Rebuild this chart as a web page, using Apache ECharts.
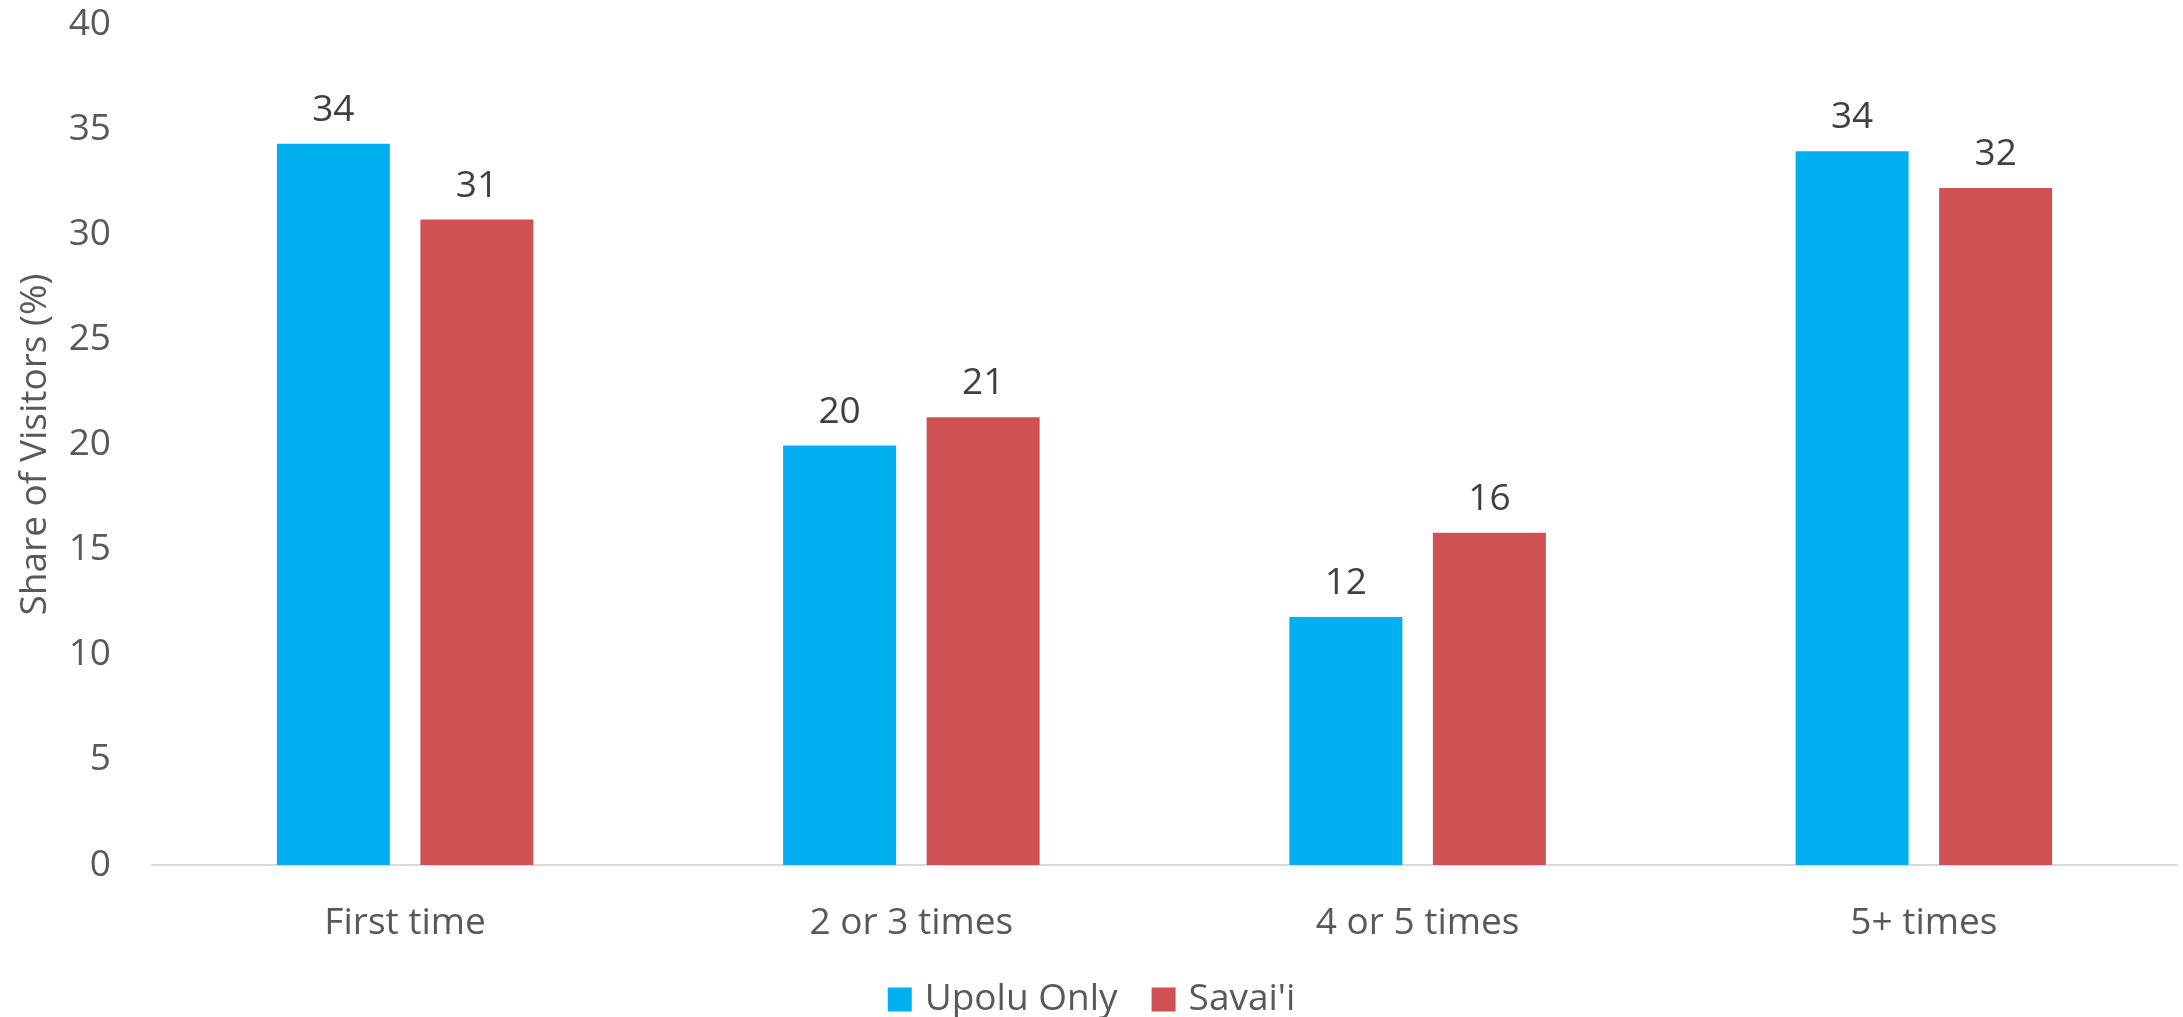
<!DOCTYPE html>
<html>
<head>
<meta charset="utf-8">
<title>Share of Visitors by Number of Visits</title>
<script src="https://cdn.jsdelivr.net/npm/echarts@6/dist/echarts.min.js"></script>
<style>
  html, body { margin: 0; padding: 0; background: #ffffff; }
  #chart { width: 2183px; height: 1017px; }
</style>
</head>
<body>
<div id="chart"></div>
<script>
// Visit frequency categories
const categories = ['First time', '2 or 3 times', '4 or 5 times', '5+ times'];
// Share of visitors (%) by island group
const upoluOnly = [34.3, 19.95, 11.8, 33.95];
const savaii = [30.7, 21.3, 15.8, 32.2];
const seriesNames = ['Upolu Only', "Savai'i"];
// Value axis range
const yMin = 0, yMax = 40, yStep = 5;

const FONT = '"Open Sans", "Noto Sans", sans-serif';
const chart = echarts.init(document.getElementById('chart'), null, { renderer: 'canvas' });

const labelStyle = {
  show: true,
  position: 'top',
  distance: 15,
  color: '#404040',
  fontFamily: FONT,
  fontSize: 37,
  formatter: p => Math.round(p.value)
};

chart.setOption({
  animation: false,
  backgroundColor: '#ffffff',
  grid: { left: 152, right: 6, top: 24, bottom: 152, containLabel: false, outerBoundsMode: 'none' },
  legend: {
    top: 976,
    left: 'center',
    itemWidth: 24,
    itemHeight: 24,
    itemGap: 34,
    icon: 'rect',
    textStyle: { color: '#595959', fontFamily: FONT, fontSize: 37, padding: [0, 0, 0, 8] },
    data: seriesNames
  },
  xAxis: {
    type: 'category',
    data: categories,
    axisLine: { show: true, lineStyle: { color: '#d9d9d9', width: 2 } },
    axisTick: { show: false },
    axisLabel: { color: '#595959', fontFamily: FONT, fontSize: 37, margin: 40 }
  },
  yAxis: {
    type: 'value',
    min: yMin,
    max: yMax,
    interval: yStep,
    name: 'Share of Visitors (%)',
    nameLocation: 'middle',
    nameGap: 98,
    nameTextStyle: { color: '#595959', fontFamily: FONT, fontSize: 37 },
    axisLine: { show: false },
    axisTick: { show: false },
    splitLine: { show: false },
    axisLabel: { color: '#595959', fontFamily: FONT, fontSize: 37, margin: 41 }
  },
  series: [
    {
      name: seriesNames[0],
      type: 'bar',
      data: upoluOnly,
      itemStyle: { color: '#00b0f0' },
      barWidth: 113,
      barGap: '27%',
      label: labelStyle
    },
    {
      name: seriesNames[1],
      type: 'bar',
      data: savaii,
      itemStyle: { color: '#d05154' },
      barWidth: 113,
      barGap: '27%',
      label: labelStyle
    }
  ]
});
</script>
</body>
</html>
